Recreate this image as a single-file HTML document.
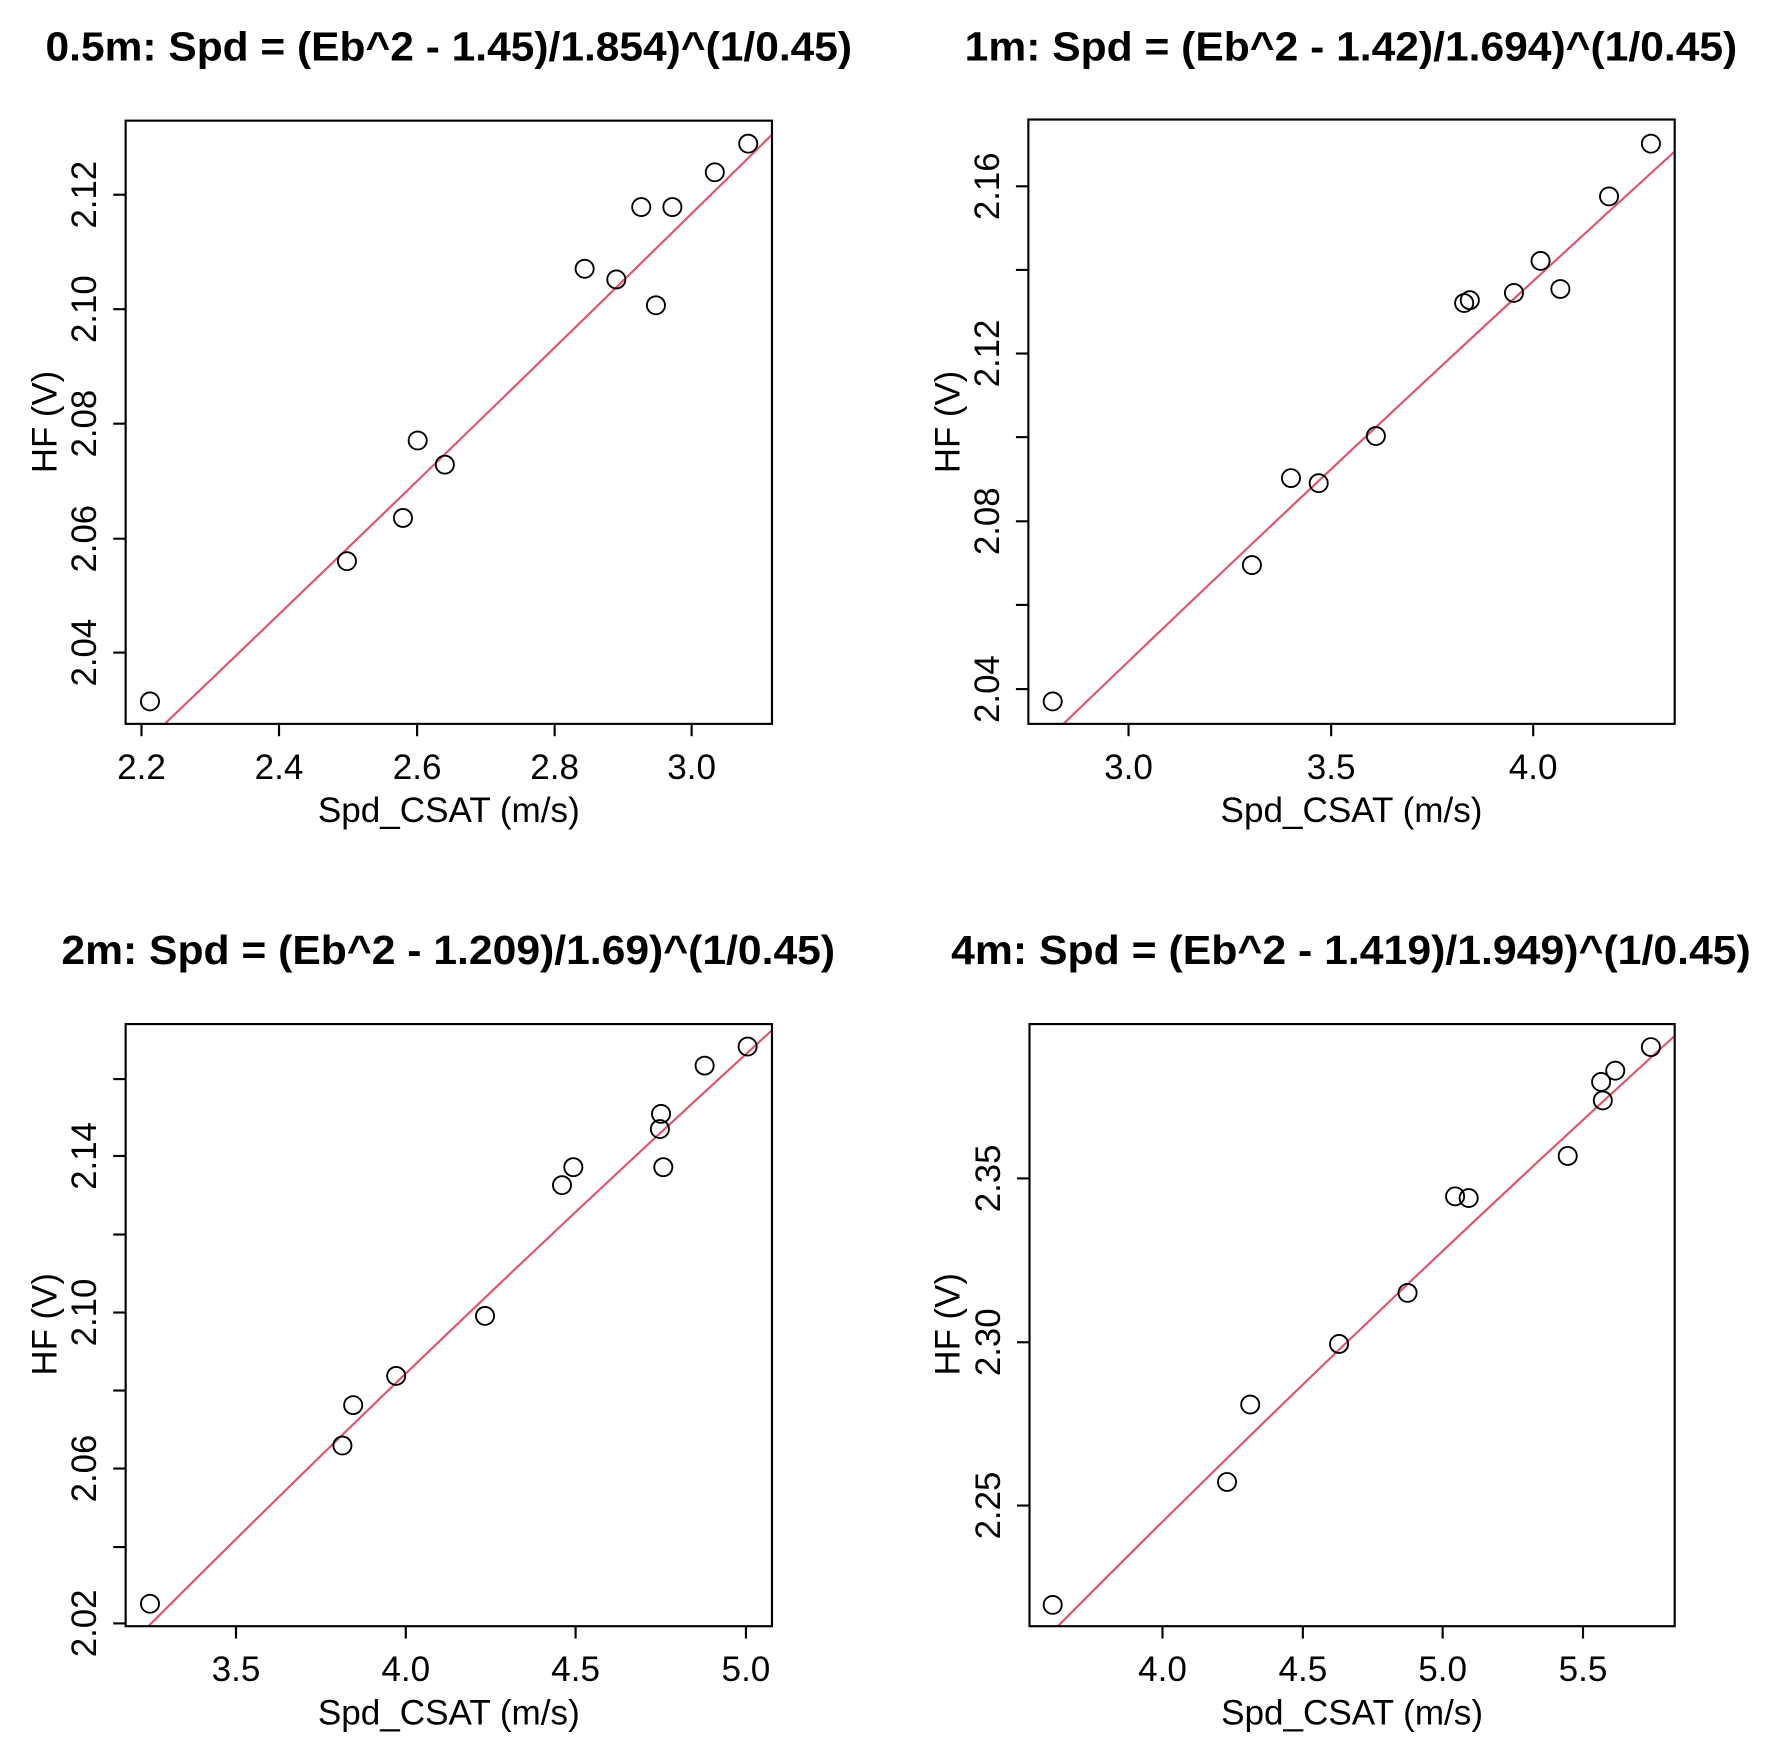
<!DOCTYPE html>
<html><head><meta charset="utf-8"><style>
html,body{margin:0;padding:0;background:#fff;}
svg{display:block;}
text{font-family:"Liberation Sans",Arial,sans-serif;fill:#000;}
.t{font-weight:bold;font-size:72px;}
.l{font-size:62px;}
.box{fill:none;stroke:#000;stroke-width:3.8;}
.tk{stroke:#000;stroke-width:3.8;}
.pt{fill:none;stroke:#000;stroke-width:3.3;}
.fit{fill:none;stroke:#DF536B;stroke-width:3.8;}
</style></head><body>
<svg width="1776" height="1762" viewBox="0 0 1776 1762" xmlns="http://www.w3.org/2000/svg">
<rect width="1776" height="1762" fill="#fff"/>

<!-- Panel 1 -->
<svg x="0" y="0" width="888" height="881" viewBox="0 0 1569 1570" preserveAspectRatio="none">
<text class="t" x="793" y="108" text-anchor="middle" textLength="1425" lengthAdjust="spacingAndGlyphs">0.5m: Spd = (Eb^2 - 1.45)/1.854)^(1/0.45)</text>
<path class="fit" d="M291,1290 Q820,780 1364,240"/>
<rect class="box" x="222" y="215" width="1142" height="1075"/>
<g class="tk">
<line x1="250" y1="1290" x2="250" y2="1312"/><line x1="493" y1="1290" x2="493" y2="1312"/><line x1="737" y1="1290" x2="737" y2="1312"/><line x1="980" y1="1290" x2="980" y2="1312"/><line x1="1222" y1="1290" x2="1222" y2="1312"/>
<line x1="222" y1="347" x2="200" y2="347"/><line x1="222" y1="551" x2="200" y2="551"/><line x1="222" y1="755" x2="200" y2="755"/><line x1="222" y1="960" x2="200" y2="960"/><line x1="222" y1="1163" x2="200" y2="1163"/>
</g>
<g class="l" text-anchor="middle">
<text x="250" y="1388">2.2</text><text x="493" y="1388">2.4</text><text x="737" y="1388">2.6</text><text x="980" y="1388">2.8</text><text x="1222" y="1388">3.0</text>
<text transform="translate(170,347) rotate(-90)">2.12</text><text transform="translate(170,551) rotate(-90)">2.10</text><text transform="translate(170,755) rotate(-90)">2.08</text><text transform="translate(170,960) rotate(-90)">2.06</text><text transform="translate(170,1163) rotate(-90)">2.04</text>
<text x="793" y="1465">Spd_CSAT (m/s)</text>
<text transform="translate(100,752) rotate(-90)">HF (V)</text>
</g>
<g class="pt">
<circle cx="265" cy="1250" r="16"/><circle cx="613" cy="1000" r="16"/><circle cx="712" cy="923" r="16"/><circle cx="738" cy="785" r="16"/><circle cx="786" cy="828" r="16"/><circle cx="1033" cy="479" r="16"/><circle cx="1089" cy="498" r="16"/><circle cx="1133" cy="369" r="16"/><circle cx="1188" cy="369" r="16"/><circle cx="1159" cy="544" r="16"/><circle cx="1263" cy="307" r="16"/><circle cx="1322" cy="256" r="16"/>
</g>
</svg>

<!-- Panel 2 -->
<svg x="888" y="0" width="888" height="881" viewBox="0 0 1569 1570" preserveAspectRatio="none">
<text class="t" x="818" y="108" text-anchor="middle" textLength="1365" lengthAdjust="spacingAndGlyphs">1m: Spd = (Eb^2 - 1.42)/1.694)^(1/0.45)</text>
<path class="fit" d="M310,1290 Q845,770 1390,270"/>
<rect class="box" x="248" y="213" width="1142" height="1077"/>
<g class="tk">
<line x1="425" y1="1290" x2="425" y2="1312"/><line x1="783" y1="1290" x2="783" y2="1312"/><line x1="1140" y1="1290" x2="1140" y2="1312"/>
<line x1="248" y1="332" x2="226" y2="332"/><line x1="248" y1="481" x2="226" y2="481"/><line x1="248" y1="630" x2="226" y2="630"/><line x1="248" y1="779" x2="226" y2="779"/><line x1="248" y1="929" x2="226" y2="929"/><line x1="248" y1="1078" x2="226" y2="1078"/><line x1="248" y1="1228" x2="226" y2="1228"/>
</g>
<g class="l" text-anchor="middle">
<text x="425" y="1388">3.0</text><text x="783" y="1388">3.5</text><text x="1140" y="1388">4.0</text>
<text transform="translate(196,332) rotate(-90)">2.16</text><text transform="translate(196,630) rotate(-90)">2.12</text><text transform="translate(196,929) rotate(-90)">2.08</text><text transform="translate(196,1228) rotate(-90)">2.04</text>
<text x="819" y="1465">Spd_CSAT (m/s)</text>
<text transform="translate(126,752) rotate(-90)">HF (V)</text>
</g>
<g class="pt">
<circle cx="291" cy="1250" r="16"/><circle cx="643" cy="1007" r="16"/><circle cx="712" cy="852" r="16"/><circle cx="761" cy="861" r="16"/><circle cx="862" cy="777" r="16"/><circle cx="1018" cy="540" r="16"/><circle cx="1028" cy="535" r="16"/><circle cx="1106" cy="522" r="16"/><circle cx="1153" cy="465" r="16"/><circle cx="1188" cy="515" r="16"/><circle cx="1274" cy="350" r="16"/><circle cx="1348" cy="256" r="16"/>
</g>
</svg>

<!-- Panel 3 -->
<svg x="0" y="881" width="888" height="881" viewBox="0 0 1569 1570" preserveAspectRatio="none">
<text class="t" x="792" y="148" text-anchor="middle" textLength="1367" lengthAdjust="spacingAndGlyphs">2m: Spd = (Eb^2 - 1.209)/1.69)^(1/0.45)</text>
<path class="fit" d="M262,1328 Q800,785 1364,266"/>
<rect class="box" x="222" y="255" width="1142" height="1073"/>
<g class="tk">
<line x1="417" y1="1328" x2="417" y2="1350"/><line x1="717" y1="1328" x2="717" y2="1350"/><line x1="1017" y1="1328" x2="1017" y2="1350"/><line x1="1318" y1="1328" x2="1318" y2="1350"/>
<line x1="222" y1="1323" x2="200" y2="1323"/><line x1="222" y1="1187" x2="200" y2="1187"/><line x1="222" y1="1047" x2="200" y2="1047"/><line x1="222" y1="908" x2="200" y2="908"/><line x1="222" y1="769" x2="200" y2="769"/><line x1="222" y1="630" x2="200" y2="630"/><line x1="222" y1="490" x2="200" y2="490"/><line x1="222" y1="353" x2="200" y2="353"/>
</g>
<g class="l" text-anchor="middle">
<text x="417" y="1426">3.5</text><text x="717" y="1426">4.0</text><text x="1017" y="1426">4.5</text><text x="1318" y="1426">5.0</text>
<text transform="translate(170,1323) rotate(-90)">2.02</text><text transform="translate(170,1047) rotate(-90)">2.06</text><text transform="translate(170,769) rotate(-90)">2.10</text><text transform="translate(170,490) rotate(-90)">2.14</text>
<text x="793" y="1503">Spd_CSAT (m/s)</text>
<text transform="translate(100,790) rotate(-90)">HF (V)</text>
</g>
<g class="pt">
<circle cx="265" cy="1288" r="16"/><circle cx="605" cy="1006" r="16"/><circle cx="624" cy="934" r="16"/><circle cx="700" cy="882" r="16"/><circle cx="857" cy="775" r="16"/><circle cx="993" cy="542" r="16"/><circle cx="1013" cy="510" r="16"/><circle cx="1168" cy="415" r="16"/><circle cx="1166" cy="442" r="16"/><circle cx="1172" cy="510" r="16"/><circle cx="1245" cy="329" r="16"/><circle cx="1321" cy="295" r="16"/>
</g>
</svg>

<!-- Panel 4 -->
<svg x="888" y="881" width="888" height="881" viewBox="0 0 1569 1570" preserveAspectRatio="none">
<text class="t" x="818" y="148" text-anchor="middle" textLength="1413" lengthAdjust="spacingAndGlyphs">4m: Spd = (Eb^2 - 1.419)/1.949)^(1/0.45)</text>
<path class="fit" d="M300,1328 Q830,790 1390,276"/>
<rect class="box" x="250" y="255" width="1140" height="1073"/>
<g class="tk">
<line x1="485" y1="1328" x2="485" y2="1350"/><line x1="733" y1="1328" x2="733" y2="1350"/><line x1="980" y1="1328" x2="980" y2="1350"/><line x1="1228" y1="1328" x2="1228" y2="1350"/>
<line x1="250" y1="530" x2="228" y2="530"/><line x1="250" y1="822" x2="228" y2="822"/><line x1="250" y1="1113" x2="228" y2="1113"/>
</g>
<g class="l" text-anchor="middle">
<text x="485" y="1426">4.0</text><text x="733" y="1426">4.5</text><text x="980" y="1426">5.0</text><text x="1228" y="1426">5.5</text>
<text transform="translate(198,530) rotate(-90)">2.35</text><text transform="translate(198,822) rotate(-90)">2.30</text><text transform="translate(198,1113) rotate(-90)">2.25</text>
<text x="820" y="1503">Spd_CSAT (m/s)</text>
<text transform="translate(126,790) rotate(-90)">HF (V)</text>
</g>
<g class="pt">
<circle cx="291" cy="1290" r="16"/><circle cx="599" cy="1071" r="16"/><circle cx="640" cy="933" r="16"/><circle cx="797" cy="825" r="16"/><circle cx="918" cy="734" r="16"/><circle cx="1002" cy="562" r="16"/><circle cx="1026" cy="565" r="16"/><circle cx="1201" cy="490" r="16"/><circle cx="1260" cy="358" r="16"/><circle cx="1263" cy="391" r="16"/><circle cx="1285" cy="338" r="16"/><circle cx="1348" cy="296" r="16"/>
</g>
</svg>
</svg>
</body></html>
